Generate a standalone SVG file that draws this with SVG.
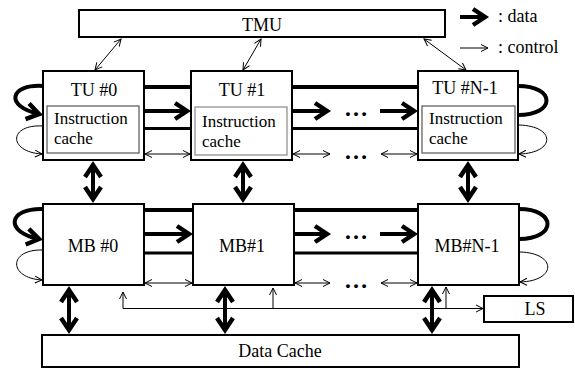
<svg xmlns="http://www.w3.org/2000/svg" width="575" height="370" viewBox="0 0 575 370">
<defs>
<style>
.box{fill:#fff;stroke:#000;stroke-width:2}
.ic{fill:#fff;stroke:#555;stroke-width:1.2}
.t{font-size:18px}
.ti{font-size:17px}
.dots{font-size:24px;font-weight:bold}
.d{fill:none;stroke:#000;stroke-width:4}
.d3{fill:none;stroke:#000;stroke-width:3}
.c{fill:none;stroke:#000;stroke-width:1}
</style>
<marker id="dh" markerUnits="userSpaceOnUse" viewBox="-20 -12 26 24" refX="0" refY="0" markerWidth="26" markerHeight="24" orient="auto-start-reverse" overflow="visible">
<path d="M-12,-8 L0,0 L-12,8" fill="none" stroke="#000" stroke-width="4.5" stroke-linejoin="miter"/>
</marker>
<marker id="ch" markerUnits="userSpaceOnUse" viewBox="-10 -6 14 12" refX="0" refY="0" markerWidth="14" markerHeight="12" orient="auto-start-reverse" overflow="visible">
<path d="M-7,-3.5 L0,0 L-7,3.5" fill="none" stroke="#000" stroke-width="1"/>
</marker>
</defs>
<rect width="575" height="370" fill="#fff"/>

<g id="connectors">
<line class="c" x1="121" y1="39" x2="95" y2="70" marker-start="url(#ch)" marker-end="url(#ch)"/>
<line class="c" x1="261" y1="39" x2="243" y2="70" marker-start="url(#ch)" marker-end="url(#ch)"/>
<line class="c" x1="424" y1="39" x2="466" y2="70" marker-start="url(#ch)" marker-end="url(#ch)"/>

<line class="d" x1="144" y1="87" x2="191" y2="87"/>
<line class="d" x1="292" y1="87" x2="418" y2="87"/>
<line class="d" x1="144" y1="111" x2="187" y2="111" marker-end="url(#dh)"/>
<line class="d" x1="292" y1="111" x2="327" y2="111" marker-end="url(#dh)"/>
<line class="d" x1="380" y1="111" x2="414" y2="111" marker-end="url(#dh)"/>
<line class="d3" x1="144" y1="128.5" x2="191" y2="128.5"/>
<line class="d3" x1="292" y1="128.5" x2="418" y2="128.5"/>
<line class="c" x1="145" y1="154" x2="190" y2="154" marker-start="url(#ch)" marker-end="url(#ch)"/>
<line class="c" x1="293" y1="154" x2="330" y2="154" marker-start="url(#ch)" marker-end="url(#ch)"/>
<line class="c" x1="381" y1="154" x2="417" y2="154" marker-start="url(#ch)" marker-end="url(#ch)"/>

<path class="d" d="M43,86 C10,84 4,106 39,114" marker-end="url(#dh)"/>
<path class="c" d="M43,126 C8,124 8,152 42,154" marker-end="url(#ch)"/>
<path class="d" d="M518,86 C556,86 556,115 518,115"/>
<path class="c" d="M519,125 C556,126 556,153 519,154" marker-end="url(#ch)"/>

<line class="d" x1="93" y1="165" x2="93" y2="199" marker-start="url(#dh)" marker-end="url(#dh)"/>
<line class="d" x1="243" y1="165" x2="243" y2="199" marker-start="url(#dh)" marker-end="url(#dh)"/>
<line class="d" x1="468" y1="165" x2="468" y2="199" marker-start="url(#dh)" marker-end="url(#dh)"/>

<line class="d" x1="144" y1="210" x2="193" y2="210"/>
<line class="d" x1="294" y1="210" x2="418" y2="210"/>
<line class="d" x1="144" y1="234" x2="189" y2="234" marker-end="url(#dh)"/>
<line class="d" x1="294" y1="234" x2="327" y2="234" marker-end="url(#dh)"/>
<line class="d" x1="380" y1="234" x2="414" y2="234" marker-end="url(#dh)"/>
<line class="d3" x1="144" y1="253" x2="193" y2="253"/>
<line class="d3" x1="294" y1="253" x2="418" y2="253"/>
<line class="c" x1="145" y1="283" x2="192" y2="283" marker-start="url(#ch)" marker-end="url(#ch)"/>
<line class="c" x1="295" y1="283" x2="330" y2="283" marker-start="url(#ch)" marker-end="url(#ch)"/>
<line class="c" x1="381" y1="283" x2="417" y2="283" marker-start="url(#ch)" marker-end="url(#ch)"/>

<path class="d" d="M43,209 C8,208 4,232 39,239" marker-end="url(#dh)"/>
<path class="c" d="M43,250 C8,249 8,278 42,280" marker-end="url(#ch)"/>
<path class="d" d="M519,209 C557,209 557,239 519,239"/>
<path class="c" d="M520,252 C557,253 557,281 520,282" marker-end="url(#ch)"/>

<line class="d" x1="69" y1="290" x2="69" y2="330" marker-start="url(#dh)" marker-end="url(#dh)"/>
<line class="d" x1="225" y1="290" x2="225" y2="330" marker-start="url(#dh)" marker-end="url(#dh)"/>
<line class="d" x1="432" y1="290" x2="432" y2="330" marker-start="url(#dh)" marker-end="url(#dh)"/>

<polyline class="c" points="123,292 123,308.5 483,308.5" marker-start="url(#ch)" marker-end="url(#ch)"/>
<line class="c" x1="273" y1="308.5" x2="273" y2="288" marker-end="url(#ch)"/>
<line class="c" x1="446" y1="308.5" x2="446" y2="287" marker-end="url(#ch)"/>

<line class="d" x1="460" y1="17" x2="485" y2="17" marker-end="url(#dh)"/>
<line class="c" x1="460" y1="48" x2="488" y2="48" marker-end="url(#ch)"/>
</g>

<g font-family="Liberation Serif, Times New Roman, serif" fill="#000">
<g id="dots">
<text class="dots" x="356" y="116" text-anchor="middle">…</text>
<text class="dots" x="356" y="159" text-anchor="middle">…</text>
<text class="dots" x="356" y="239" text-anchor="middle">…</text>
<text class="dots" x="356" y="288" text-anchor="middle">…</text>
</g>

<g id="tmu">
<rect class="box" x="79" y="10" width="366" height="27"/>
<text class="t" x="262" y="31" text-anchor="middle">TMU</text>
</g>

<g id="tu0">
<rect class="box" x="43" y="71" width="101" height="89"/>
<text class="t" x="94" y="96" text-anchor="middle">TU #0</text>
<rect class="ic" x="47" y="106" width="92" height="47"/>
<text class="ti" x="54" y="124">Instruction</text>
<text class="ti" x="54" y="144">cache</text>
</g>
<g id="tu1">
<rect class="box" x="191" y="71" width="101" height="89"/>
<text class="t" x="242" y="96" text-anchor="middle">TU #1</text>
<rect class="ic" x="195" y="107" width="92" height="48" style="stroke:#888"/>
<text class="ti" x="202" y="127">Instruction</text>
<text class="ti" x="202" y="147">cache</text>
</g>
<g id="tun">
<rect class="box" x="418" y="71" width="100" height="89"/>
<text class="t" x="465" y="94" text-anchor="middle">TU #N-1</text>
<rect class="ic" x="422" y="106" width="93" height="47"/>
<text class="ti" x="429" y="124">Instruction</text>
<text class="ti" x="429" y="144">cache</text>
</g>

<g id="mb0">
<rect class="box" x="43" y="204" width="101" height="81"/>
<text class="t" x="93" y="252" text-anchor="middle">MB #0</text>
</g>
<g id="mb1">
<rect class="box" x="193" y="204" width="101" height="81"/>
<text class="t" x="242" y="252" text-anchor="middle">MB#1</text>
</g>
<g id="mbn">
<rect class="box" x="418" y="204" width="101" height="81"/>
<text class="t" x="467" y="252" text-anchor="middle">MB#N-1</text>
</g>

<g id="ls">
<rect class="box" x="484" y="296" width="89" height="26"/>
<text class="t" x="535" y="315" text-anchor="middle">LS</text>
</g>

<g id="datacache">
<rect class="box" x="42" y="335" width="477" height="32"/>
<text class="t" x="280" y="357" text-anchor="middle">Data Cache</text>
</g>

<g id="legend">
<text class="t" x="498" y="22">: data</text>
<text class="t" x="498" y="53">: control</text>
</g>
</g>
</svg>
